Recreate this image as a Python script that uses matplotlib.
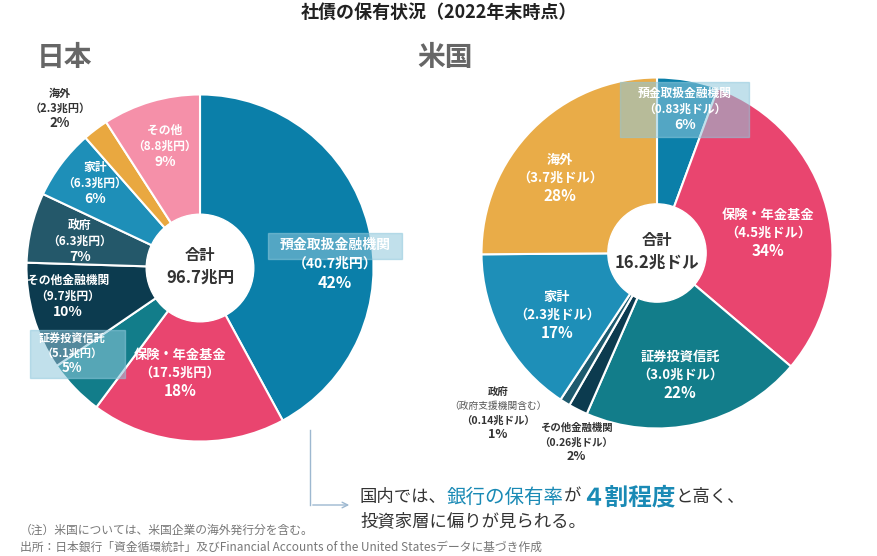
import matplotlib.pyplot as plt
from matplotlib.patches import Rectangle, FancyArrowPatch

plt.rcParams['font.family'] = ['Noto Sans CJK JP', 'DejaVu Sans']

W, H = 878, 556

# data
jp_labels = ["預金取扱金融機関", "保険・年金基金", "証券投資信託", "その他金融機関", "政府", "家計", "海外", "その他"]
jp_values = [40.7, 17.5, 5.1, 9.7, 6.3, 6.3, 2.3, 8.8]
jp_pct = [42, 18, 5, 10, 7, 6, 2, 9]
jp_colors = ["#0b7fa9", "#e9456f", "#127d8a", "#0c3b4f", "#24586a", "#1e8fb8", "#e9a840", "#f590a9"]

us_labels = ["預金取扱金融機関", "保険・年金基金", "証券投資信託", "その他金融機関", "政府", "家計", "海外"]
us_values = [0.83, 4.5, 3.0, 0.26, 0.14, 2.3, 3.7]
us_pct = [6, 34, 22, 2, 1, 17, 28]
us_colors = ["#0b7fa9", "#e9456f", "#127d8a", "#0c3b4f", "#1e5a6e", "#1e8fb8", "#e9ac48"]

fig = plt.figure(figsize=(W / 100, H / 100), dpi=100)


def px(x, y):
    return x / W, 1 - y / H


def txt(x, y, s, **kw):
    kw.setdefault("ha", "center")
    kw.setdefault("va", "center")
    fig.text(*px(x, y), s, **kw)


def donut(cx, cy, r, values, colors, hole):
    ax = fig.add_axes([(cx - r) / W, (H - cy - r) / H, 2 * r / W, 2 * r / H])
    ax.pie(values, colors=colors, startangle=90, counterclock=False,
           wedgeprops=dict(edgecolor="white", linewidth=1.5))
    ax.add_patch(plt.Circle((0, 0), hole, color="white", zorder=5))
    ax.set_xlim(-1.02, 1.02)
    ax.set_ylim(-1.02, 1.02)
    ax.axis("off")


donut(200, 268, 177, jp_values, jp_colors, 0.31)
donut(657, 253, 179, us_values, us_colors, 0.28)

# highlight boxes
for x0, y0, x1, y1 in [(268, 233, 402, 259), (30, 330, 125, 378), (620, 82, 749, 137)]:
    fig.patches.append(Rectangle(px(x0, y1), (x1 - x0) / W, (y1 - y0) / H,
                                 transform=fig.transFigure, color="#8fc8dc", alpha=0.55, zorder=0.5))

txt(439, 12, "社債の保有状況（2022年末時点）", fontsize=13, weight="bold", color="#222222")
txt(65, 58, "日本", fontsize=20, weight="bold", color="#666666")
txt(445, 58, "米国", fontsize=20, weight="bold", color="#666666")

# left labels
jp_pos = [(335, 245, 10), (180, 355, 9.5), (72, 338, 8), (68, 280, 8.5), (80, 225, 8.5),
          (95, 167, 8.5), (60, 93, 8), (165, 130, 8.5)]
for i, (x, y, fs) in enumerate(jp_pos):
    c = "#333333" if jp_labels[i] == "海外" else "white"
    gap = fs * 1.9
    txt(x, y, jp_labels[i], fontsize=fs, weight="bold", color=c)
    txt(x, y + gap, f"（{jp_values[i]}兆円）", fontsize=fs, weight="bold", color=c)
    txt(x, y + 2 * gap, f"{jp_pct[i]}%", fontsize=fs + 1.5, weight="bold", color=c)
txt(200, 255, "合計", fontsize=11, weight="bold", color="#333333")
txt(200, 278, "96.7兆円", fontsize=12, weight="bold", color="#333333")

# right labels
us_pos = [(685, 93, 8.5), (768, 215, 9.5), (680, 357, 9.5), (576, 428, 7.5),
          (498, 392, 7.5), (557, 297, 9.5), (560, 160, 9.5)]
for i, (x, y, fs) in enumerate(us_pos):
    outside = us_labels[i] in ("政府", "その他金融機関")
    c = "#333333" if outside else "white"
    gap = fs * 1.9
    txt(x, y, us_labels[i], fontsize=fs, weight="bold", color=c)
    k = 1
    if us_labels[i] == "政府":
        txt(x, y + gap, "（政府支援機関含む）", fontsize=fs - 0.5, color="#555555")
        k = 2
    txt(x, y + k * gap, f"（{us_values[i]}兆ドル）", fontsize=fs, weight="bold", color=c)
    txt(x, y + (k + 1) * gap, f"{us_pct[i]}%", fontsize=fs + 1.5, weight="bold", color=c)
txt(657, 240, "合計", fontsize=11, weight="bold", color="#333333")
txt(657, 263, "16.2兆ドル", fontsize=12, weight="bold", color="#333333")

# connector arrow
fig.lines.append(plt.Line2D([310 / W, 310 / W], [1 - 430 / H, 1 - 505 / H],
                            transform=fig.transFigure, color="#9db8d0", lw=1))
fig.patches.append(FancyArrowPatch(px(310, 505), px(352, 505), transform=fig.transFigure,
                                   arrowstyle="->", mutation_scale=10, color="#9db8d0", lw=1))

# message
x = 360
t1 = fig.text(*px(x, 495), "国内では、", fontsize=12.5, color="#333333", va="center")
fig.canvas.draw()
r = fig.canvas.get_renderer()
parts = [("国内では、", 12.5, "#333333", "normal"), ("銀行の保有率", 14, "#1a8ab5", "normal"),
         ("が", 12.5, "#333333", "normal"), ("４割程度", 17, "#1a8ab5", "bold"),
         ("と高く、", 12.5, "#333333", "normal")]
t1.remove()
for s, fs, c, w in parts:
    t = fig.text(*px(x, 497), s, fontsize=fs, color=c, weight=w, va="center")
    x += t.get_window_extent(r).width
fig.text(*px(360, 521), "投資家層に偏りが見られる。", fontsize=12.5, color="#333333", va="center")

fig.text(*px(20, 530), "（注）米国については、米国企業の海外発行分を含む。", fontsize=8.5, color="#777777", va="center")
fig.text(*px(20, 547), "出所：日本銀行「資金循環統計」及びFinancial Accounts of the United Statesデータに基づき作成",
         fontsize=8.5, color="#777777", va="center")

fig.savefig("out.png", dpi=100)
